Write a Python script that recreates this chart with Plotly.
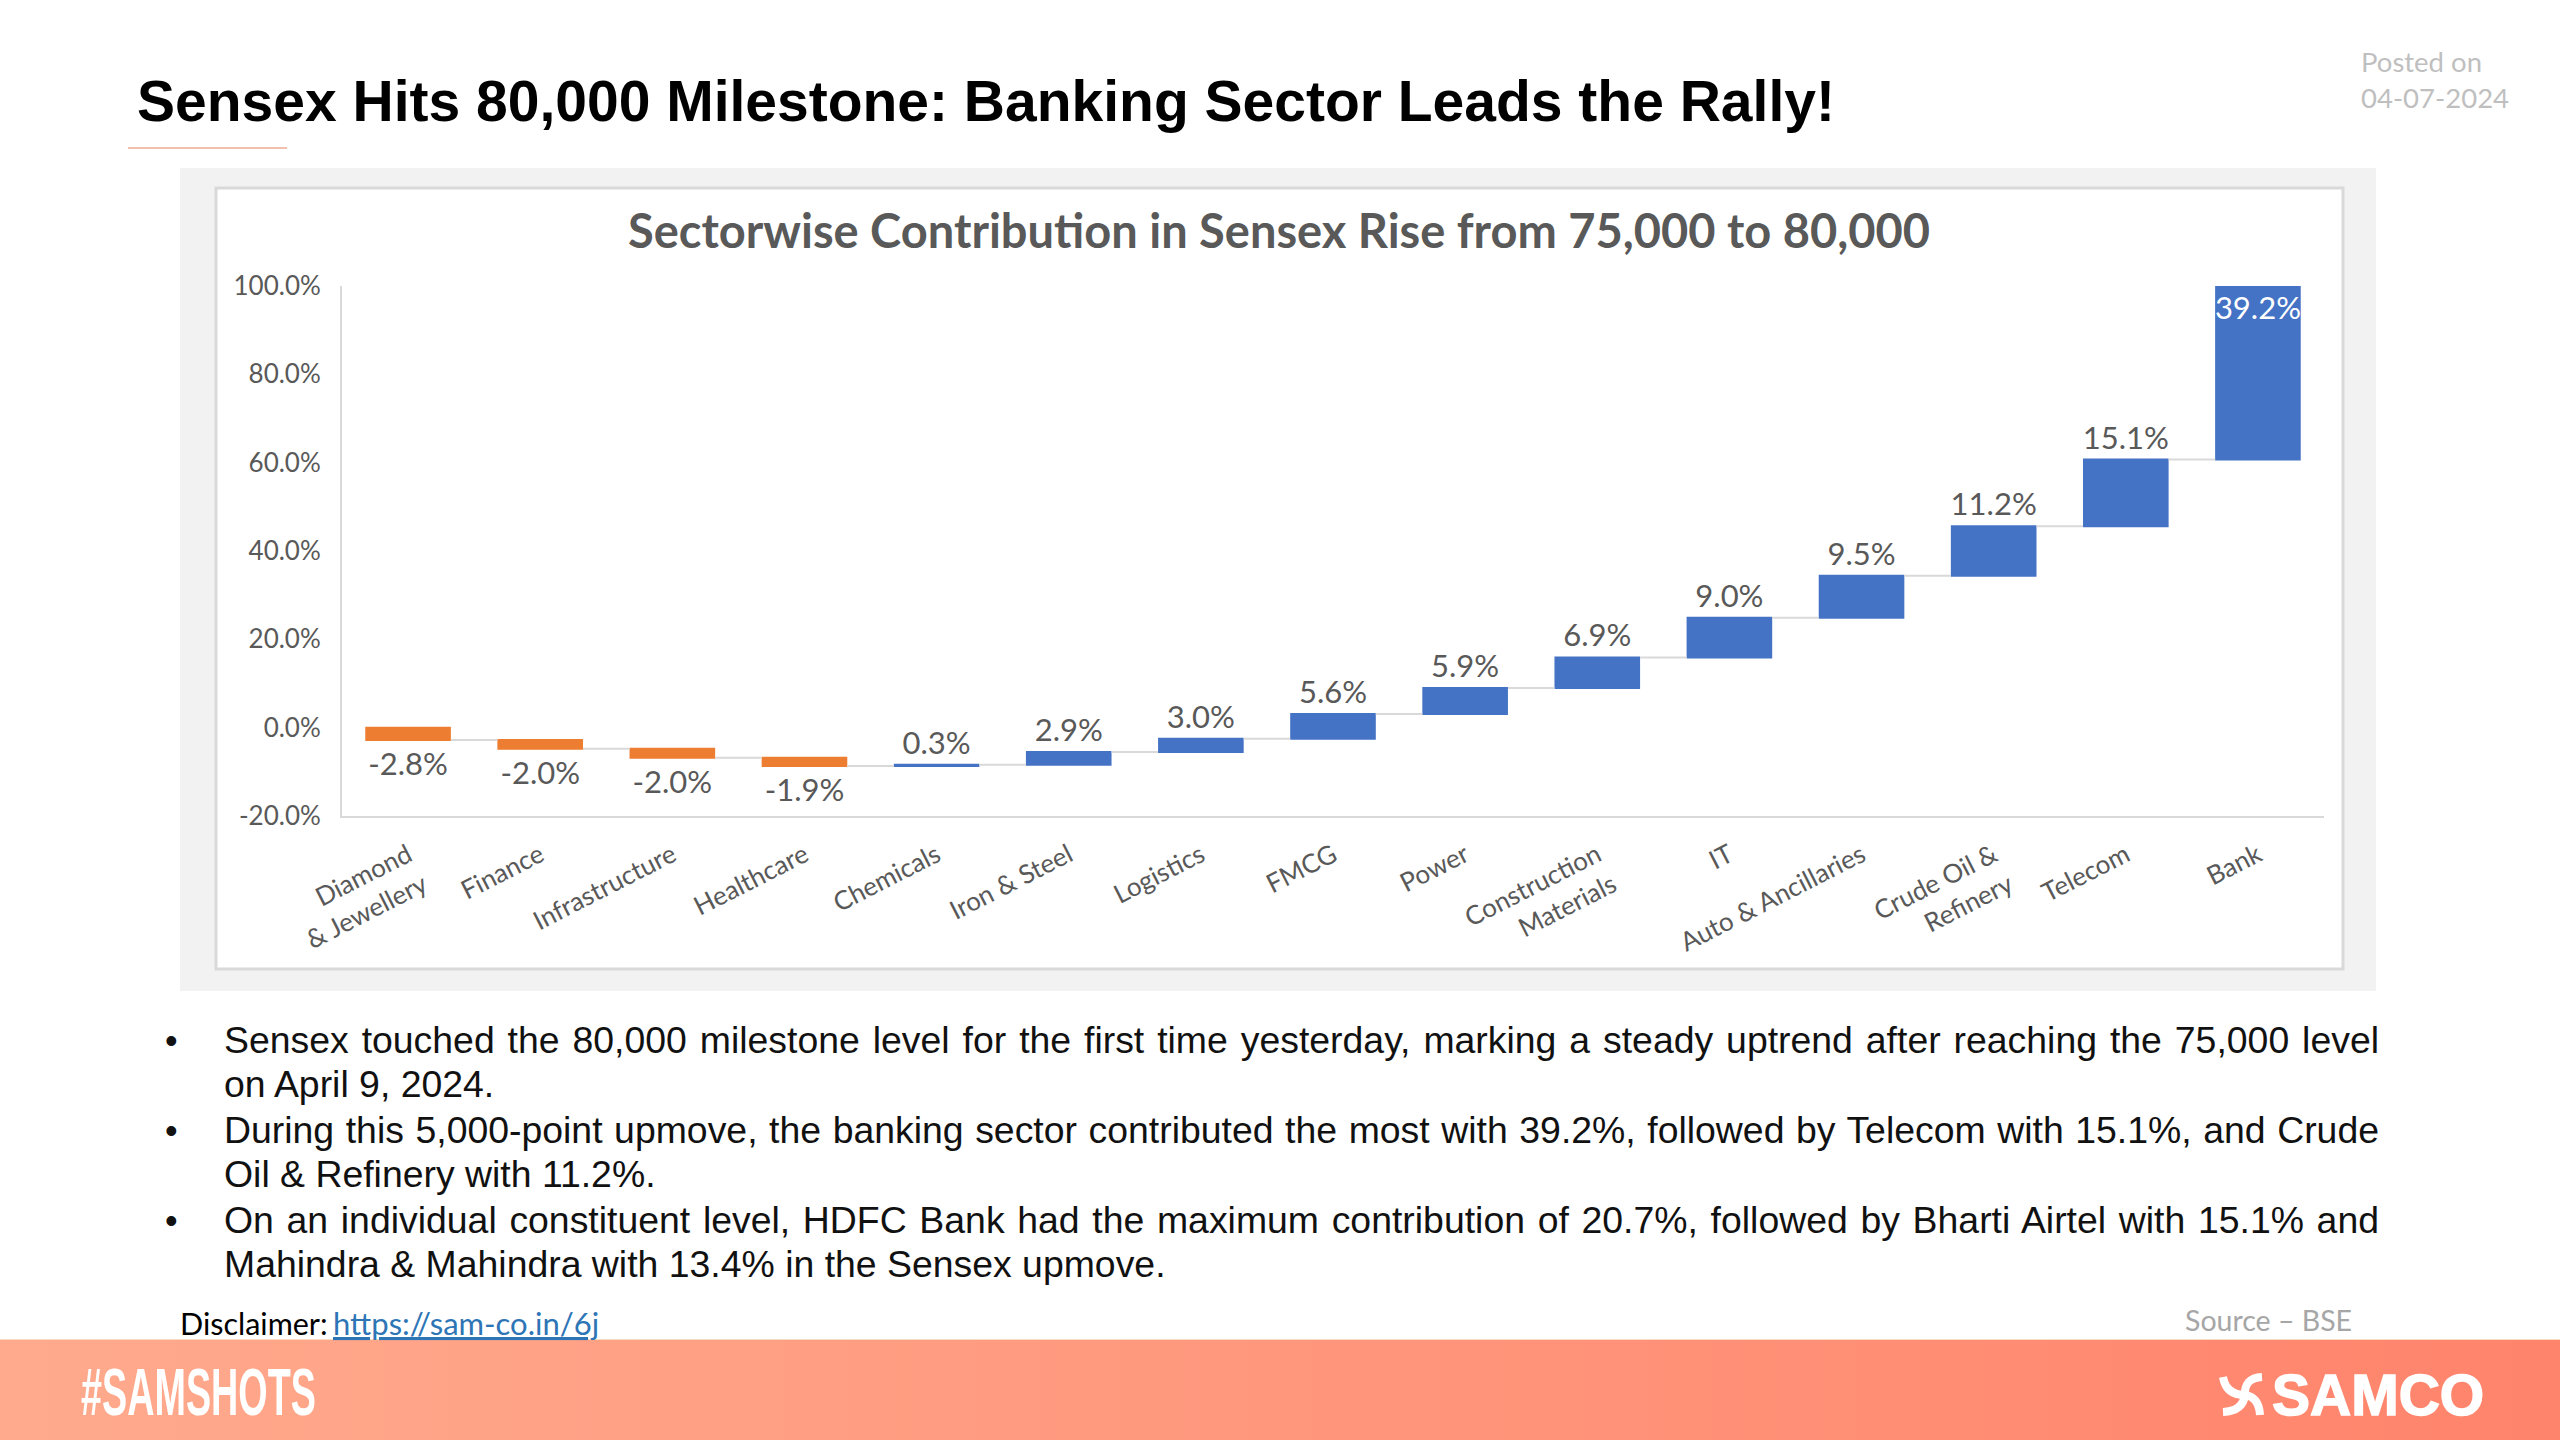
import plotly.graph_objects as go

sectors = ["Diamond<br>& Jewellery", "Finance", "Infrastructure", "Healthcare", "Chemicals",
           "Iron & Steel", "Logistics", "FMCG", "Power", "Construction<br>Materials", "IT",
           "Auto & Ancillaries", "Crude Oil &<br>Refinery", "Telecom", "Bank"]
contribution = [-2.8, -2.0, -2.0, -1.9, 0.3, 2.9, 3.0, 5.6, 5.9, 6.9, 9.0, 9.5, 11.2, 15.1, 39.2]
y_ticks = [-20, 0, 20, 40, 60, 80, 100]
y_tick_labels = ["-20.0%", "0.0%", "20.0%", "40.0%", "60.0%", "80.0%", "100.0%"]
bullet_lines = [
    "Sensex touched the 80,000 milestone level for the first time yesterday, marking a steady uptrend after reaching the 75,000 level",
    "on April 9, 2024.",
    "During this 5,000-point upmove, the banking sector contributed the most with 39.2%, followed by Telecom with 15.1%, and Crude",
    "Oil & Refinery with 11.2%.",
    "On an individual constituent level, HDFC Bank had the maximum contribution of 20.7%, followed by Bharti Airtel with 15.1% and",
    "Mahindra & Mahindra with 13.4% in the Sensex upmove.",
]
bullet_y = [1040, 1084, 1130, 1174, 1220, 1264]

W, H = 2560, 1440
fx = lambda p: p / W
fy = lambda p: 1 - p / H

BLUE, ORANGE = "#4472C4", "#ED7D31"
AXIS, TEXT = "#D9D9D9", "#595959"
CAL = "Lato"

fig = go.Figure(go.Waterfall(
    x=sectors, y=contribution, measure=["relative"] * len(contribution),
    text=[f"{v:.1f}%" for v in contribution],
    textposition=["outside"] * (len(contribution) - 1) + ["inside"],
    insidetextanchor="end",
    textangle=0,
    constraintext="none",
    cliponaxis=False,
    outsidetextfont=dict(family=CAL, size=31, color=TEXT),
    insidetextfont=dict(family=CAL, size=31, color="white"),
    increasing=dict(marker=dict(color=BLUE, line=dict(width=0))),
    decreasing=dict(marker=dict(color=ORANGE, line=dict(width=0))),
    connector=dict(line=dict(color="#D9D9D9", width=2)),
    width=0.648,
    hoverinfo="skip",
))

shapes = [
    dict(type="rect", xref="paper", yref="paper", x0=fx(180), x1=fx(2376), y0=fy(168), y1=fy(991),
         fillcolor="#F2F2F2", line_width=0, layer="below"),
    dict(type="rect", xref="paper", yref="paper", x0=fx(216), x1=fx(2343), y0=fy(188), y1=fy(969),
         fillcolor="white", line=dict(color="#D9D9D9", width=3), layer="below"),
    dict(type="line", xref="paper", yref="paper", x0=fx(128), x1=fx(287), y0=fy(148), y1=fy(148),
         line=dict(color="#F2C1AE", width=2)),
]
# footer gradient band
c0, c1 = (255, 170, 141), (255, 132, 108)
n = 160
for i in range(n):
    t = i / (n - 1)
    col = tuple(round(a + (b - a) * t) for a, b in zip(c0, c1))
    shapes.append(dict(type="rect", xref="paper", yref="paper",
                       x0=i / n, x1=(i + 1.5) / n, y0=0, y1=fy(1340),
                       fillcolor=f"rgb{col}", line_width=0, layer="below"))
shapes.append(dict(type="line", xref="paper", yref="paper", x0=0, x1=1, y0=fy(1339.5), y1=fy(1339.5),
                   line=dict(color="#F6DCC0", width=1)))
# logo mark
def px_path(pts):
    return " ".join(f"{c} {fx(x):.5f},{fy(y):.5f}" if c != "" else f"{fx(x):.5f},{fy(y):.5f}" for c, x, y in pts)

logo_strokes = [
    [("M", 2223, 1377), ("Q", 2226, 1395), ("", 2245, 1395)],
    [("M", 2262, 1377), ("Q", 2244, 1378), ("", 2245, 1395)],
    [("M", 2223, 1412), ("Q", 2243, 1411), ("", 2245, 1395)],
    [("M", 2260, 1415), ("Q", 2259, 1397), ("", 2245, 1395)],
]
for s in logo_strokes:
    shapes.append(dict(type="path", xref="paper", yref="paper", path=px_path(s),
                       line=dict(color="white", width=8)))

def note(text, x, y, size, color="black", family=CAL, bold=False, anchor="left", **font):
    return dict(text=f"<b>{text}</b>" if bold else text, x=fx(x), y=fy(y), xref="paper", yref="paper",
                xanchor=anchor, yanchor="middle", showarrow=False, align="left",
                font=dict(family=family, size=size, color=color, **font))

ann = [
    note("Sensex Hits 80,000 Milestone: Banking Sector Leads the Rally!", 135, 101, 57,
         family="Liberation Sans", bold=True),
    note("Posted on", 2359, 62, 27.5, "#BFBFBF"),
    note("04-07-2024", 2359, 98, 27.5, "#BFBFBF"),
    note("Sectorwise Contribution in Sensex Rise from 75,000 to 80,000", 1279, 230, 47, TEXT, bold=True, anchor="center"),
    note("Disclaimer:", 178, 1323, 30.5),
    note("https://sam-co.in/6j", 331, 1323, 31, "#2E75B6", lineposition="under"),
    note("Source – BSE", 2183, 1320, 28.5, "#A6A6A6"),
    note("#SAMSHOTS", 79, 1392, 66, "white", family="Liberation Sans", bold=True),
    note("SAMCO", 2270, 1395, 57, "white", family="Liberation Sans", bold=True),
]
for ly, ln in zip(bullet_y, bullet_lines):
    ann.append(note(ln, 222, ly, 37.4, "#111111", family="Liberation Sans"))
for i in (0, 2, 4):
    ann.append(note("•", 163, bullet_y[i], 36, "#111111", family="Liberation Sans"))

fig.update_layout(
    width=W, height=H, margin=dict(l=0, r=0, t=0, b=0), autosize=False,
    paper_bgcolor="white", plot_bgcolor="rgba(0,0,0,0)", showlegend=False,
    shapes=shapes, annotations=ann,
    xaxis=dict(domain=[fx(342), fx(2324)], showgrid=False, zeroline=False, showline=True, linecolor=AXIS, linewidth=2,
               tickangle=-27, tickfont=dict(family=CAL, size=26, color=TEXT), ticks="outside",
               tickcolor="rgba(0,0,0,0)", ticklen=12, anchor="y", automargin=False),
    yaxis=dict(domain=[fy(816), fy(286)], range=[-20, 100], tickvals=y_ticks, ticktext=y_tick_labels,
               showgrid=False, zeroline=False, showline=True, linecolor=AXIS, linewidth=2,
               tickfont=dict(family=CAL, size=26, color=TEXT), ticks="outside",
               tickcolor="rgba(0,0,0,0)", ticklen=14, automargin=False),
)

post = """
document.body.style.margin='0';
var target=2379-224;
document.querySelectorAll('.annotation-text').forEach(function(t){
  var s=t.textContent;
  if(s.startsWith('Sensex touched')||s.startsWith('During this')||s.startsWith('On an individual')){
    var n=s.split(' ').length-1;
    t.style.wordSpacing=((target-t.getComputedTextLength())/n)+'px';
  }
  if(s==='#SAMSHOTS'){
    var b=t.getBBox(), k=235/b.width;
    t.setAttribute('transform','translate('+(b.x*(1-k))+',0) scale('+k+',1)');
  }
  if(s==='SAMCO'){t.style.stroke='white';t.style.strokeWidth='1.5px';}
});
"""
fig.write_html("out.html", post_script=post, config=dict(displayModeBar=False))
